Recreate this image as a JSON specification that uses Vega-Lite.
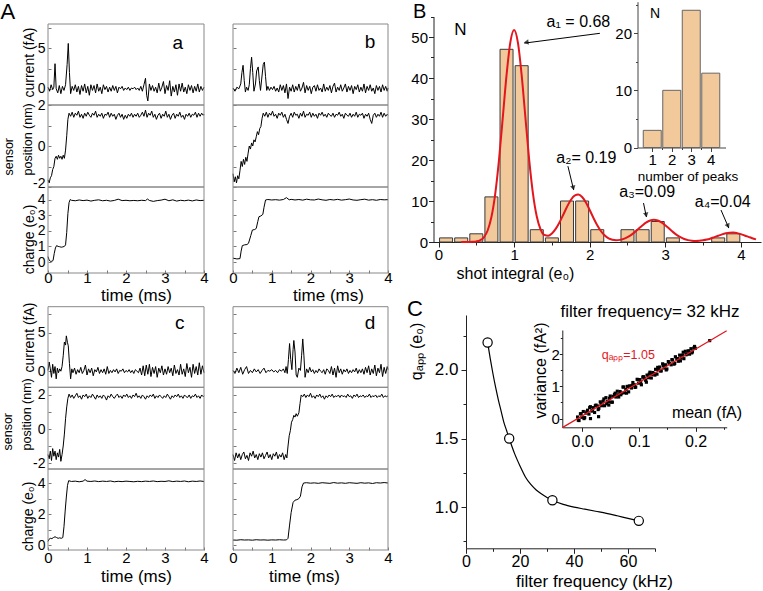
{
"$schema":"https://vega.github.io/schema/vega-lite/v6.json",
"width":763,"height":591,"autosize":"none","padding":0,"background":"white",
"config":{"view":{"stroke":null},"font":"Liberation Sans","axis":{"grid":false,"labelFont":"Liberation Sans","titleFont":"Liberation Sans","titleFontWeight":"normal","labelColor":"#000","titleColor":"#000","domainColor":"#333","tickColor":"#333","labelFlush":false,"labelOverlap":false},"text":{"font":"Liberation Sans"}},
"datasets":{
"ac":[{"t":0,"v":0.2},{"t":0.04,"v":-0.3},{"t":0.08,"v":0.5},{"t":0.12,"v":-0.1},{"t":0.15,"v":0.2},{"t":0.18,"v":3.1},{"t":0.21,"v":0.0},{"t":0.25,"v":-0.5},{"t":0.29,"v":0.4},{"t":0.33,"v":-0.6},{"t":0.37,"v":0.3},{"t":0.41,"v":-0.2},{"t":0.45,"v":0.5},{"t":0.49,"v":3.0},{"t":0.52,"v":5.6},{"t":0.55,"v":2.0},{"t":0.58,"v":-0.6},{"t":0.62,"v":0.3},{"t":0.66,"v":-0.2},{"t":0.70,"v":0.5},{"t":0.74,"v":-0.4},{"t":0.78,"v":0.3},{"t":0.82,"v":-0.7},{"t":0.86,"v":0.4},{"t":0.90,"v":-0.3},{"t":0.94,"v":0.6},{"t":0.98,"v":-0.5},{"t":1.02,"v":0.3},{"t":1.06,"v":-0.8},{"t":1.10,"v":0.5},{"t":1.14,"v":-0.2},{"t":1.18,"v":0.4},{"t":1.22,"v":-0.5},{"t":1.26,"v":0.6},{"t":1.30,"v":-0.3},{"t":1.34,"v":0.2},{"t":1.38,"v":-0.6},{"t":1.42,"v":0.5},{"t":1.46,"v":-0.1},{"t":1.50,"v":0.3},{"t":1.54,"v":-0.4},{"t":1.58,"v":0.2},{"t":1.62,"v":-0.3},{"t":1.66,"v":0.4},{"t":1.70,"v":-0.2},{"t":1.74,"v":0.3},{"t":1.78,"v":-0.5},{"t":1.82,"v":0.2},{"t":1.86,"v":0.0},{"t":1.90,"v":0.3},{"t":1.94,"v":-0.2},{"t":1.98,"v":0.1},{"t":2.02,"v":-0.1},{"t":2.06,"v":0.2},{"t":2.10,"v":-0.2},{"t":2.14,"v":0.1},{"t":2.18,"v":0.0},{"t":2.22,"v":0.2},{"t":2.26,"v":-0.1},{"t":2.30,"v":0.1},{"t":2.34,"v":-0.2},{"t":2.38,"v":0.3},{"t":2.42,"v":-0.3},{"t":2.46,"v":0.5},{"t":2.50,"v":1.3},{"t":2.53,"v":-0.8},{"t":2.56,"v":-1.5},{"t":2.60,"v":0.6},{"t":2.64,"v":-0.2},{"t":2.68,"v":0.4},{"t":2.72,"v":-0.3},{"t":2.76,"v":0.2},{"t":2.80,"v":-0.5},{"t":2.84,"v":0.7},{"t":2.88,"v":-0.3},{"t":2.92,"v":0.2},{"t":2.96,"v":0.9},{"t":3.00,"v":-0.6},{"t":3.04,"v":0.4},{"t":3.08,"v":-0.2},{"t":3.12,"v":1.0},{"t":3.16,"v":-0.9},{"t":3.20,"v":0.3},{"t":3.24,"v":-0.4},{"t":3.28,"v":0.5},{"t":3.32,"v":-0.8},{"t":3.36,"v":0.6},{"t":3.40,"v":-0.3},{"t":3.44,"v":0.7},{"t":3.48,"v":-0.4},{"t":3.52,"v":0.2},{"t":3.56,"v":-0.6},{"t":3.60,"v":0.5},{"t":3.64,"v":-0.2},{"t":3.68,"v":0.4},{"t":3.72,"v":-0.5},{"t":3.76,"v":0.3},{"t":3.80,"v":-0.3},{"t":3.84,"v":0.6},{"t":3.88,"v":-0.4},{"t":3.92,"v":0.3},{"t":3.96,"v":-0.2},{"t":4.00,"v":0.2}],
"as":[{"t":0,"v":-1.65},{"t":0.03,"v":-1.8},{"t":0.06,"v":-1.55},{"t":0.09,"v":-1.45},{"t":0.12,"v":-1.15},{"t":0.15,"v":-1.0},{"t":0.18,"v":-0.6},{"t":0.21,"v":-0.5},{"t":0.24,"v":-0.65},{"t":0.27,"v":-0.45},{"t":0.30,"v":-0.6},{"t":0.33,"v":-0.5},{"t":0.36,"v":-0.65},{"t":0.39,"v":-0.45},{"t":0.42,"v":-0.6},{"t":0.45,"v":-0.2},{"t":0.48,"v":0.5},{"t":0.51,"v":1.3},{"t":0.54,"v":1.6},{"t":0.58,"v":1.45},{"t":0.62,"v":1.65},{"t":0.66,"v":1.4},{"t":0.70,"v":1.6},{"t":0.74,"v":1.5},{"t":0.78,"v":1.7},{"t":0.82,"v":1.4},{"t":0.86,"v":1.55},{"t":0.90,"v":1.35},{"t":0.94,"v":1.6},{"t":0.98,"v":1.45},{"t":1.02,"v":1.65},{"t":1.06,"v":1.5},{"t":1.10,"v":1.4},{"t":1.14,"v":1.6},{"t":1.18,"v":1.5},{"t":1.22,"v":1.7},{"t":1.26,"v":1.4},{"t":1.30,"v":1.55},{"t":1.34,"v":1.45},{"t":1.38,"v":1.6},{"t":1.42,"v":1.35},{"t":1.46,"v":1.55},{"t":1.50,"v":1.5},{"t":1.54,"v":1.65},{"t":1.58,"v":1.4},{"t":1.62,"v":1.6},{"t":1.66,"v":1.45},{"t":1.70,"v":1.55},{"t":1.74,"v":1.3},{"t":1.78,"v":1.5},{"t":1.82,"v":1.6},{"t":1.86,"v":1.4},{"t":1.90,"v":1.55},{"t":1.94,"v":1.3},{"t":1.98,"v":1.5},{"t":2.02,"v":1.35},{"t":2.06,"v":1.55},{"t":2.10,"v":1.45},{"t":2.14,"v":1.6},{"t":2.18,"v":1.4},{"t":2.22,"v":1.55},{"t":2.26,"v":1.45},{"t":2.30,"v":1.6},{"t":2.34,"v":1.4},{"t":2.38,"v":1.5},{"t":2.42,"v":1.65},{"t":2.46,"v":1.45},{"t":2.50,"v":1.75},{"t":2.54,"v":1.4},{"t":2.58,"v":1.6},{"t":2.62,"v":1.5},{"t":2.66,"v":1.7},{"t":2.70,"v":1.4},{"t":2.74,"v":1.55},{"t":2.78,"v":1.3},{"t":2.82,"v":1.5},{"t":2.86,"v":1.6},{"t":2.90,"v":1.35},{"t":2.94,"v":1.55},{"t":2.98,"v":1.45},{"t":3.02,"v":1.7},{"t":3.06,"v":1.4},{"t":3.10,"v":1.55},{"t":3.14,"v":1.3},{"t":3.18,"v":1.5},{"t":3.22,"v":1.6},{"t":3.26,"v":1.35},{"t":3.30,"v":1.55},{"t":3.34,"v":1.45},{"t":3.38,"v":1.65},{"t":3.42,"v":1.4},{"t":3.46,"v":1.5},{"t":3.50,"v":1.3},{"t":3.54,"v":1.55},{"t":3.58,"v":1.45},{"t":3.62,"v":1.6},{"t":3.66,"v":1.4},{"t":3.70,"v":1.55},{"t":3.74,"v":1.5},{"t":3.78,"v":1.65},{"t":3.82,"v":1.4},{"t":3.86,"v":1.6},{"t":3.90,"v":1.45},{"t":3.94,"v":1.6},{"t":3.98,"v":1.5},{"t":4.00,"v":1.55}],
"ach":[{"t":0,"v":0.35},{"t":0.03,"v":0.12},{"t":0.06,"v":0.05},{"t":0.1,"v":0.05},{"t":0.13,"v":0.1},{"t":0.16,"v":0.55},{"t":0.19,"v":0.9},{"t":0.22,"v":1.05},{"t":0.26,"v":1.0},{"t":0.3,"v":0.98},{"t":0.34,"v":0.95},{"t":0.38,"v":0.97},{"t":0.42,"v":1.0},{"t":0.45,"v":1.1},{"t":0.48,"v":1.9},{"t":0.51,"v":3.1},{"t":0.54,"v":3.8},{"t":0.57,"v":4.0},{"t":0.6,"v":3.95},{"t":0.7,"v":3.92},{"t":0.8,"v":3.97},{"t":0.9,"v":3.93},{"t":1.0,"v":3.96},{"t":1.1,"v":3.9},{"t":1.2,"v":3.95},{"t":1.3,"v":3.98},{"t":1.4,"v":3.92},{"t":1.5,"v":3.95},{"t":1.6,"v":3.9},{"t":1.7,"v":3.94},{"t":1.8,"v":4.02},{"t":1.9,"v":3.93},{"t":2.0,"v":3.95},{"t":2.1,"v":3.92},{"t":2.2,"v":3.94},{"t":2.3,"v":3.92},{"t":2.4,"v":3.95},{"t":2.5,"v":3.93},{"t":2.55,"v":4.03},{"t":2.6,"v":3.94},{"t":2.7,"v":3.88},{"t":2.8,"v":3.93},{"t":2.9,"v":3.96},{"t":3.0,"v":4.02},{"t":3.1,"v":3.92},{"t":3.2,"v":3.98},{"t":3.3,"v":3.9},{"t":3.4,"v":3.95},{"t":3.5,"v":3.92},{"t":3.6,"v":3.96},{"t":3.7,"v":3.91},{"t":3.8,"v":3.97},{"t":3.9,"v":3.93},{"t":4.0,"v":3.95}],
"bc":[{"t":0,"v":0.1},{"t":0.05,"v":-0.3},{"t":0.1,"v":0.2},{"t":0.15,"v":0.0},{"t":0.2,"v":0.6},{"t":0.23,"v":2.0},{"t":0.26,"v":2.9},{"t":0.29,"v":1.0},{"t":0.32,"v":-0.4},{"t":0.35,"v":0.2},{"t":0.39,"v":-0.2},{"t":0.42,"v":0.5},{"t":0.45,"v":2.5},{"t":0.48,"v":3.9},{"t":0.51,"v":2.0},{"t":0.54,"v":-0.3},{"t":0.58,"v":0.6},{"t":0.61,"v":2.2},{"t":0.65,"v":2.7},{"t":0.68,"v":1.0},{"t":0.71,"v":-0.2},{"t":0.74,"v":1.2},{"t":0.78,"v":3.0},{"t":0.81,"v":3.3},{"t":0.84,"v":1.5},{"t":0.87,"v":-0.2},{"t":0.9,"v":0.3},{"t":0.94,"v":-0.2},{"t":0.98,"v":0.2},{"t":1.02,"v":-0.1},{"t":1.06,"v":0.3},{"t":1.1,"v":-0.3},{"t":1.14,"v":0.1},{"t":1.18,"v":-0.4},{"t":1.22,"v":0.5},{"t":1.26,"v":-0.2},{"t":1.3,"v":0.4},{"t":1.34,"v":-0.5},{"t":1.38,"v":0.6},{"t":1.42,"v":-1.2},{"t":1.46,"v":0.2},{"t":1.5,"v":-0.3},{"t":1.54,"v":0.5},{"t":1.58,"v":-0.4},{"t":1.62,"v":0.3},{"t":1.66,"v":-0.2},{"t":1.7,"v":0.6},{"t":1.74,"v":-0.3},{"t":1.78,"v":0.1},{"t":1.82,"v":0.8},{"t":1.86,"v":-0.5},{"t":1.9,"v":0.4},{"t":1.94,"v":-0.2},{"t":1.98,"v":0.3},{"t":2.02,"v":-0.6},{"t":2.06,"v":0.2},{"t":2.1,"v":0.4},{"t":2.14,"v":-0.3},{"t":2.18,"v":0.5},{"t":2.22,"v":-0.2},{"t":2.26,"v":0.1},{"t":2.3,"v":-0.4},{"t":2.34,"v":0.6},{"t":2.38,"v":-0.3},{"t":2.42,"v":0.2},{"t":2.46,"v":-0.2},{"t":2.5,"v":0.4},{"t":2.54,"v":-0.5},{"t":2.58,"v":0.3},{"t":2.62,"v":0.7},{"t":2.66,"v":-0.4},{"t":2.7,"v":0.2},{"t":2.74,"v":-0.2},{"t":2.78,"v":0.5},{"t":2.82,"v":-0.3},{"t":2.86,"v":0.1},{"t":2.9,"v":0.6},{"t":2.94,"v":-0.4},{"t":2.98,"v":0.3},{"t":3.02,"v":-0.2},{"t":3.06,"v":0.4},{"t":3.1,"v":-0.6},{"t":3.14,"v":0.3},{"t":3.18,"v":-0.1},{"t":3.22,"v":0.5},{"t":3.26,"v":-0.4},{"t":3.3,"v":0.2},{"t":3.34,"v":-0.3},{"t":3.38,"v":0.6},{"t":3.42,"v":-0.5},{"t":3.46,"v":0.3},{"t":3.5,"v":-0.2},{"t":3.54,"v":0.5},{"t":3.58,"v":-0.3},{"t":3.62,"v":0.1},{"t":3.66,"v":-0.6},{"t":3.7,"v":0.4},{"t":3.74,"v":-0.2},{"t":3.78,"v":0.3},{"t":3.82,"v":-0.4},{"t":3.86,"v":0.5},{"t":3.9,"v":-0.2},{"t":3.94,"v":0.3},{"t":3.98,"v":-0.3},{"t":4.0,"v":0.1}],
"bs":[{"t":0,"v":-1.35},{"t":0.03,"v":-1.75},{"t":0.06,"v":-1.5},{"t":0.09,"v":-1.8},{"t":0.12,"v":-1.45},{"t":0.15,"v":-1.6},{"t":0.18,"v":-1.2},{"t":0.21,"v":-0.75},{"t":0.24,"v":-1.0},{"t":0.27,"v":-0.65},{"t":0.30,"v":-0.9},{"t":0.33,"v":-0.55},{"t":0.36,"v":-0.75},{"t":0.39,"v":-0.35},{"t":0.42,"v":0.0},{"t":0.45,"v":-0.15},{"t":0.48,"v":0.15},{"t":0.51,"v":0.0},{"t":0.54,"v":0.3},{"t":0.57,"v":0.2},{"t":0.60,"v":0.45},{"t":0.63,"v":0.7},{"t":0.66,"v":0.55},{"t":0.69,"v":0.85},{"t":0.72,"v":0.95},{"t":0.75,"v":1.35},{"t":0.78,"v":1.6},{"t":0.82,"v":1.45},{"t":0.86,"v":1.65},{"t":0.90,"v":1.4},{"t":0.94,"v":1.6},{"t":0.98,"v":1.5},{"t":1.02,"v":1.7},{"t":1.06,"v":1.45},{"t":1.10,"v":1.55},{"t":1.14,"v":1.35},{"t":1.18,"v":1.6},{"t":1.22,"v":1.5},{"t":1.26,"v":1.65},{"t":1.30,"v":1.4},{"t":1.34,"v":1.55},{"t":1.38,"v":1.3},{"t":1.42,"v":1.1},{"t":1.46,"v":1.45},{"t":1.50,"v":1.6},{"t":1.54,"v":1.4},{"t":1.58,"v":1.65},{"t":1.62,"v":1.5},{"t":1.66,"v":1.55},{"t":1.70,"v":1.35},{"t":1.74,"v":1.6},{"t":1.78,"v":1.45},{"t":1.82,"v":1.7},{"t":1.86,"v":1.4},{"t":1.90,"v":1.55},{"t":1.94,"v":1.5},{"t":1.98,"v":1.65},{"t":2.02,"v":1.4},{"t":2.06,"v":1.6},{"t":2.10,"v":1.45},{"t":2.14,"v":1.55},{"t":2.18,"v":1.35},{"t":2.22,"v":1.6},{"t":2.26,"v":1.5},{"t":2.30,"v":1.65},{"t":2.34,"v":1.45},{"t":2.38,"v":1.55},{"t":2.42,"v":1.4},{"t":2.46,"v":1.6},{"t":2.50,"v":1.5},{"t":2.54,"v":1.45},{"t":2.58,"v":1.6},{"t":2.62,"v":1.4},{"t":2.66,"v":1.55},{"t":2.70,"v":1.5},{"t":2.74,"v":1.65},{"t":2.78,"v":1.45},{"t":2.82,"v":1.55},{"t":2.86,"v":1.35},{"t":2.90,"v":1.6},{"t":2.94,"v":1.5},{"t":2.98,"v":1.45},{"t":3.02,"v":1.6},{"t":3.06,"v":1.4},{"t":3.10,"v":1.55},{"t":3.14,"v":1.45},{"t":3.18,"v":1.65},{"t":3.22,"v":1.4},{"t":3.26,"v":1.55},{"t":3.30,"v":1.5},{"t":3.34,"v":1.6},{"t":3.38,"v":1.35},{"t":3.42,"v":1.55},{"t":3.46,"v":1.45},{"t":3.50,"v":1.6},{"t":3.54,"v":1.3},{"t":3.58,"v":1.1},{"t":3.62,"v":1.5},{"t":3.66,"v":1.6},{"t":3.70,"v":1.4},{"t":3.74,"v":1.55},{"t":3.78,"v":1.45},{"t":3.82,"v":1.65},{"t":3.86,"v":1.4},{"t":3.90,"v":1.6},{"t":3.94,"v":1.45},{"t":3.98,"v":1.55},{"t":4.00,"v":1.5}],
"bch":[{"t":0,"v":0.25},{"t":0.1,"v":0.2},{"t":0.18,"v":0.22},{"t":0.21,"v":0.7},{"t":0.24,"v":1.05},{"t":0.3,"v":1.1},{"t":0.36,"v":1.12},{"t":0.4,"v":1.2},{"t":0.46,"v":1.7},{"t":0.5,"v":2.05},{"t":0.56,"v":2.08},{"t":0.6,"v":2.15},{"t":0.64,"v":2.6},{"t":0.67,"v":2.9},{"t":0.72,"v":2.95},{"t":0.77,"v":3.05},{"t":0.8,"v":3.5},{"t":0.84,"v":3.97},{"t":0.9,"v":4.0},{"t":1.0,"v":3.97},{"t":1.1,"v":3.99},{"t":1.2,"v":3.96},{"t":1.3,"v":4.0},{"t":1.38,"v":4.12},{"t":1.45,"v":3.98},{"t":1.5,"v":4.01},{"t":1.6,"v":3.97},{"t":1.7,"v":4.0},{"t":1.8,"v":3.96},{"t":1.9,"v":4.02},{"t":2.0,"v":3.98},{"t":2.1,"v":3.97},{"t":2.2,"v":4.03},{"t":2.3,"v":3.98},{"t":2.4,"v":3.95},{"t":2.5,"v":4.0},{"t":2.6,"v":3.97},{"t":2.7,"v":4.01},{"t":2.8,"v":3.96},{"t":2.9,"v":3.99},{"t":3.0,"v":4.03},{"t":3.1,"v":3.97},{"t":3.2,"v":3.95},{"t":3.3,"v":3.99},{"t":3.4,"v":4.02},{"t":3.5,"v":3.96},{"t":3.6,"v":3.99},{"t":3.7,"v":3.95},{"t":3.8,"v":4.0},{"t":3.9,"v":3.98},{"t":4.0,"v":3.99}],
"cc":[{"t":0,"v":0.1},{"t":0.03,"v":1.2},{"t":0.06,"v":0.3},{"t":0.09,"v":-0.8},{"t":0.12,"v":0.9},{"t":0.15,"v":-0.3},{"t":0.18,"v":0.6},{"t":0.21,"v":-1.0},{"t":0.24,"v":0.4},{"t":0.27,"v":-0.2},{"t":0.3,"v":0.3},{"t":0.33,"v":0.0},{"t":0.36,"v":0.6},{"t":0.39,"v":2.0},{"t":0.42,"v":3.8},{"t":0.45,"v":3.4},{"t":0.47,"v":4.6},{"t":0.5,"v":3.7},{"t":0.52,"v":3.3},{"t":0.55,"v":1.0},{"t":0.58,"v":-1.0},{"t":0.61,"v":0.3},{"t":0.64,"v":-0.2},{"t":0.68,"v":0.4},{"t":0.72,"v":-0.4},{"t":0.76,"v":0.2},{"t":0.8,"v":-0.2},{"t":0.84,"v":0.5},{"t":0.88,"v":-0.3},{"t":0.92,"v":0.1},{"t":0.96,"v":0.8},{"t":1.0,"v":-0.5},{"t":1.04,"v":0.3},{"t":1.08,"v":-0.2},{"t":1.12,"v":0.4},{"t":1.16,"v":-0.6},{"t":1.2,"v":0.2},{"t":1.24,"v":-0.1},{"t":1.28,"v":0.5},{"t":1.32,"v":-0.3},{"t":1.36,"v":0.2},{"t":1.4,"v":-0.2},{"t":1.44,"v":0.3},{"t":1.48,"v":-0.4},{"t":1.52,"v":0.6},{"t":1.56,"v":-0.3},{"t":1.6,"v":0.1},{"t":1.64,"v":-0.2},{"t":1.68,"v":0.2},{"t":1.72,"v":-0.1},{"t":1.76,"v":0.3},{"t":1.8,"v":-0.3},{"t":1.84,"v":0.1},{"t":1.88,"v":0.0},{"t":1.92,"v":0.3},{"t":1.96,"v":-0.2},{"t":2.0,"v":0.1},{"t":2.04,"v":-0.1},{"t":2.08,"v":0.2},{"t":2.12,"v":-0.2},{"t":2.16,"v":0.1},{"t":2.2,"v":-0.3},{"t":2.24,"v":0.2},{"t":2.28,"v":0.0},{"t":2.32,"v":-0.2},{"t":2.36,"v":0.4},{"t":2.4,"v":-0.5},{"t":2.44,"v":0.7},{"t":2.48,"v":-0.6},{"t":2.52,"v":0.8},{"t":2.56,"v":-0.4},{"t":2.6,"v":0.9},{"t":2.64,"v":-0.7},{"t":2.68,"v":0.5},{"t":2.72,"v":-0.3},{"t":2.76,"v":0.6},{"t":2.8,"v":-0.8},{"t":2.84,"v":0.4},{"t":2.88,"v":-0.2},{"t":2.92,"v":0.7},{"t":2.96,"v":-0.5},{"t":3.0,"v":0.3},{"t":3.04,"v":-0.4},{"t":3.08,"v":0.6},{"t":3.12,"v":-0.2},{"t":3.16,"v":0.4},{"t":3.2,"v":-0.6},{"t":3.24,"v":0.8},{"t":3.28,"v":-0.3},{"t":3.32,"v":0.2},{"t":3.36,"v":-0.5},{"t":3.4,"v":0.9},{"t":3.44,"v":-0.4},{"t":3.48,"v":0.3},{"t":3.52,"v":-0.7},{"t":3.56,"v":1.0},{"t":3.6,"v":-0.2},{"t":3.64,"v":0.5},{"t":3.68,"v":-0.8},{"t":3.72,"v":0.9},{"t":3.76,"v":-0.3},{"t":3.8,"v":0.6},{"t":3.84,"v":-0.5},{"t":3.88,"v":1.1},{"t":3.92,"v":-0.4},{"t":3.96,"v":0.7},{"t":4.0,"v":-0.2}],
"cs":[{"t":0,"v":-1.5},{"t":0.03,"v":-1.75},{"t":0.06,"v":-1.3},{"t":0.09,"v":-1.85},{"t":0.12,"v":-1.15},{"t":0.15,"v":-1.6},{"t":0.18,"v":-1.3},{"t":0.21,"v":-1.8},{"t":0.24,"v":-1.4},{"t":0.27,"v":-1.65},{"t":0.30,"v":-1.2},{"t":0.33,"v":-1.9},{"t":0.36,"v":-1.5},{"t":0.39,"v":-1.0},{"t":0.42,"v":-0.3},{"t":0.45,"v":0.6},{"t":0.48,"v":1.3},{"t":0.51,"v":1.8},{"t":0.54,"v":2.05},{"t":0.58,"v":1.85},{"t":0.62,"v":2.0},{"t":0.66,"v":1.8},{"t":0.70,"v":1.95},{"t":0.74,"v":2.1},{"t":0.78,"v":1.85},{"t":0.82,"v":1.95},{"t":0.86,"v":1.75},{"t":0.90,"v":2.0},{"t":0.94,"v":1.9},{"t":0.98,"v":2.05},{"t":1.02,"v":1.8},{"t":1.06,"v":1.95},{"t":1.10,"v":1.85},{"t":1.14,"v":2.05},{"t":1.18,"v":1.9},{"t":1.22,"v":1.75},{"t":1.26,"v":2.0},{"t":1.30,"v":1.85},{"t":1.34,"v":1.95},{"t":1.38,"v":1.8},{"t":1.42,"v":2.0},{"t":1.46,"v":1.9},{"t":1.50,"v":1.7},{"t":1.54,"v":1.95},{"t":1.58,"v":1.85},{"t":1.62,"v":2.05},{"t":1.66,"v":1.9},{"t":1.70,"v":1.8},{"t":1.74,"v":1.95},{"t":1.78,"v":2.05},{"t":1.82,"v":1.85},{"t":1.86,"v":1.95},{"t":1.90,"v":1.8},{"t":1.94,"v":2.0},{"t":1.98,"v":1.9},{"t":2.02,"v":2.05},{"t":2.06,"v":1.85},{"t":2.10,"v":1.95},{"t":2.14,"v":1.8},{"t":2.18,"v":2.0},{"t":2.22,"v":1.9},{"t":2.26,"v":2.1},{"t":2.30,"v":1.85},{"t":2.34,"v":1.95},{"t":2.38,"v":1.8},{"t":2.42,"v":2.0},{"t":2.46,"v":1.9},{"t":2.50,"v":1.75},{"t":2.54,"v":1.95},{"t":2.58,"v":1.85},{"t":2.62,"v":2.0},{"t":2.66,"v":1.9},{"t":2.70,"v":2.05},{"t":2.74,"v":1.8},{"t":2.78,"v":1.95},{"t":2.82,"v":1.85},{"t":2.86,"v":2.0},{"t":2.90,"v":1.9},{"t":2.94,"v":1.8},{"t":2.98,"v":1.95},{"t":3.02,"v":1.85},{"t":3.06,"v":2.05},{"t":3.10,"v":1.9},{"t":3.14,"v":1.75},{"t":3.18,"v":1.95},{"t":3.22,"v":1.85},{"t":3.26,"v":2.0},{"t":3.30,"v":1.9},{"t":3.34,"v":2.05},{"t":3.38,"v":1.85},{"t":3.42,"v":1.95},{"t":3.46,"v":1.8},{"t":3.50,"v":2.0},{"t":3.54,"v":1.9},{"t":3.58,"v":1.85},{"t":3.62,"v":2.0},{"t":3.66,"v":1.8},{"t":3.70,"v":1.95},{"t":3.74,"v":1.9},{"t":3.78,"v":2.05},{"t":3.82,"v":1.85},{"t":3.86,"v":1.95},{"t":3.90,"v":1.8},{"t":3.94,"v":2.0},{"t":3.98,"v":1.9},{"t":4.00,"v":1.95}],
"cch":[{"t":0,"v":0.25},{"t":0.03,"v":0.4},{"t":0.06,"v":0.45},{"t":0.1,"v":0.43},{"t":0.14,"v":0.5},{"t":0.18,"v":0.55},{"t":0.22,"v":0.5},{"t":0.26,"v":0.45},{"t":0.3,"v":0.48},{"t":0.34,"v":0.45},{"t":0.38,"v":0.5},{"t":0.41,"v":1.2},{"t":0.44,"v":2.2},{"t":0.47,"v":3.1},{"t":0.5,"v":3.85},{"t":0.53,"v":4.15},{"t":0.6,"v":4.1},{"t":0.7,"v":4.12},{"t":0.8,"v":4.08},{"t":0.9,"v":4.12},{"t":0.95,"v":4.22},{"t":1.0,"v":4.12},{"t":1.1,"v":4.1},{"t":1.2,"v":4.13},{"t":1.3,"v":4.09},{"t":1.4,"v":4.12},{"t":1.5,"v":4.1},{"t":1.6,"v":4.13},{"t":1.7,"v":4.08},{"t":1.8,"v":4.11},{"t":1.9,"v":4.09},{"t":2.0,"v":4.12},{"t":2.1,"v":4.1},{"t":2.2,"v":4.08},{"t":2.3,"v":4.11},{"t":2.4,"v":4.09},{"t":2.5,"v":4.12},{"t":2.6,"v":4.1},{"t":2.7,"v":4.13},{"t":2.8,"v":4.09},{"t":2.9,"v":4.11},{"t":3.0,"v":4.1},{"t":3.1,"v":4.14},{"t":3.2,"v":4.09},{"t":3.3,"v":4.12},{"t":3.4,"v":4.1},{"t":3.5,"v":4.13},{"t":3.6,"v":4.08},{"t":3.7,"v":4.12},{"t":3.8,"v":4.1},{"t":3.9,"v":4.13},{"t":4.0,"v":4.1}],
"dc":[{"t":0,"v":0.1},{"t":0.05,"v":-0.3},{"t":0.1,"v":0.4},{"t":0.15,"v":-0.2},{"t":0.2,"v":0.5},{"t":0.25,"v":-0.4},{"t":0.3,"v":0.2},{"t":0.35,"v":0.6},{"t":0.4,"v":-0.3},{"t":0.45,"v":0.1},{"t":0.5,"v":-0.2},{"t":0.55,"v":0.3},{"t":0.6,"v":-0.1},{"t":0.65,"v":0.2},{"t":0.7,"v":-0.3},{"t":0.75,"v":0.1},{"t":0.8,"v":0.4},{"t":0.85,"v":-0.2},{"t":0.9,"v":0.1},{"t":0.95,"v":0.0},{"t":1.0,"v":0.2},{"t":1.05,"v":-0.1},{"t":1.1,"v":0.1},{"t":1.15,"v":-0.2},{"t":1.2,"v":0.2},{"t":1.25,"v":0.0},{"t":1.3,"v":0.3},{"t":1.34,"v":-0.2},{"t":1.37,"v":0.6},{"t":1.4,"v":-0.3},{"t":1.43,"v":1.5},{"t":1.46,"v":3.6},{"t":1.49,"v":1.5},{"t":1.52,"v":0.2},{"t":1.55,"v":2.8},{"t":1.57,"v":4.0},{"t":1.6,"v":2.5},{"t":1.63,"v":-0.5},{"t":1.66,"v":-0.8},{"t":1.7,"v":0.4},{"t":1.74,"v":0.1},{"t":1.77,"v":2.0},{"t":1.8,"v":4.2},{"t":1.83,"v":2.0},{"t":1.86,"v":-0.8},{"t":1.9,"v":0.3},{"t":1.94,"v":-0.2},{"t":1.98,"v":0.5},{"t":2.02,"v":-0.1},{"t":2.06,"v":0.2},{"t":2.1,"v":-0.3},{"t":2.14,"v":0.1},{"t":2.18,"v":-0.2},{"t":2.22,"v":0.3},{"t":2.26,"v":0.0},{"t":2.3,"v":-0.2},{"t":2.34,"v":0.2},{"t":2.38,"v":-0.4},{"t":2.42,"v":0.3},{"t":2.46,"v":0.1},{"t":2.5,"v":-0.3},{"t":2.54,"v":0.6},{"t":2.58,"v":-0.5},{"t":2.62,"v":0.4},{"t":2.66,"v":-0.8},{"t":2.7,"v":0.7},{"t":2.74,"v":-0.2},{"t":2.78,"v":0.3},{"t":2.82,"v":-0.4},{"t":2.86,"v":0.2},{"t":2.9,"v":-0.1},{"t":2.94,"v":0.3},{"t":2.98,"v":-0.3},{"t":3.02,"v":0.1},{"t":3.06,"v":-0.2},{"t":3.1,"v":0.2},{"t":3.14,"v":-0.1},{"t":3.18,"v":0.4},{"t":3.22,"v":-0.3},{"t":3.26,"v":0.2},{"t":3.3,"v":-0.2},{"t":3.34,"v":0.3},{"t":3.38,"v":-0.4},{"t":3.42,"v":0.5},{"t":3.46,"v":-0.2},{"t":3.5,"v":0.7},{"t":3.54,"v":-0.5},{"t":3.58,"v":0.3},{"t":3.62,"v":-0.3},{"t":3.66,"v":0.8},{"t":3.7,"v":-0.6},{"t":3.74,"v":0.4},{"t":3.78,"v":-0.2},{"t":3.82,"v":0.9},{"t":3.86,"v":-0.7},{"t":3.9,"v":0.5},{"t":3.94,"v":-0.3},{"t":3.98,"v":0.6},{"t":4.0,"v":0.2}],
"ds":[{"t":0,"v":-1.5},{"t":0.04,"v":-1.85},{"t":0.08,"v":-1.4},{"t":0.12,"v":-1.7},{"t":0.16,"v":-1.45},{"t":0.20,"v":-1.8},{"t":0.24,"v":-1.5},{"t":0.28,"v":-1.35},{"t":0.32,"v":-1.75},{"t":0.36,"v":-1.55},{"t":0.40,"v":-1.85},{"t":0.44,"v":-1.4},{"t":0.48,"v":-1.6},{"t":0.52,"v":-1.3},{"t":0.56,"v":-1.7},{"t":0.60,"v":-1.5},{"t":0.64,"v":-1.8},{"t":0.68,"v":-1.45},{"t":0.72,"v":-1.65},{"t":0.76,"v":-1.4},{"t":0.80,"v":-1.75},{"t":0.84,"v":-1.55},{"t":0.88,"v":-1.35},{"t":0.92,"v":-1.7},{"t":0.96,"v":-1.5},{"t":1.00,"v":-1.8},{"t":1.04,"v":-1.45},{"t":1.08,"v":-1.6},{"t":1.12,"v":-1.35},{"t":1.16,"v":-1.75},{"t":1.20,"v":-1.5},{"t":1.24,"v":-1.65},{"t":1.28,"v":-1.4},{"t":1.32,"v":-1.8},{"t":1.36,"v":-1.5},{"t":1.39,"v":-1.7},{"t":1.42,"v":-1.0},{"t":1.45,"v":-0.4},{"t":1.48,"v":-0.1},{"t":1.51,"v":0.4},{"t":1.54,"v":0.55},{"t":1.57,"v":0.8},{"t":1.60,"v":0.7},{"t":1.63,"v":0.9},{"t":1.66,"v":0.75},{"t":1.70,"v":0.95},{"t":1.73,"v":1.5},{"t":1.76,"v":2.0},{"t":1.80,"v":1.9},{"t":1.84,"v":2.05},{"t":1.88,"v":1.85},{"t":1.92,"v":2.0},{"t":1.96,"v":1.9},{"t":2.00,"v":2.1},{"t":2.04,"v":1.85},{"t":2.08,"v":1.95},{"t":2.12,"v":1.8},{"t":2.16,"v":2.0},{"t":2.20,"v":1.9},{"t":2.24,"v":2.05},{"t":2.28,"v":1.85},{"t":2.32,"v":1.95},{"t":2.36,"v":1.75},{"t":2.40,"v":1.95},{"t":2.44,"v":1.85},{"t":2.48,"v":2.0},{"t":2.52,"v":1.9},{"t":2.56,"v":2.05},{"t":2.60,"v":1.85},{"t":2.64,"v":1.95},{"t":2.68,"v":1.9},{"t":2.72,"v":2.0},{"t":2.76,"v":1.85},{"t":2.80,"v":2.0},{"t":2.84,"v":1.9},{"t":2.88,"v":1.95},{"t":2.92,"v":1.85},{"t":2.96,"v":2.05},{"t":3.00,"v":1.9},{"t":3.04,"v":1.95},{"t":3.08,"v":1.8},{"t":3.12,"v":2.0},{"t":3.16,"v":1.9},{"t":3.20,"v":2.05},{"t":3.24,"v":1.85},{"t":3.28,"v":1.95},{"t":3.32,"v":1.9},{"t":3.36,"v":2.0},{"t":3.40,"v":1.85},{"t":3.44,"v":1.95},{"t":3.48,"v":1.9},{"t":3.52,"v":2.05},{"t":3.56,"v":1.85},{"t":3.60,"v":1.95},{"t":3.64,"v":1.9},{"t":3.68,"v":2.0},{"t":3.72,"v":1.85},{"t":3.76,"v":1.95},{"t":3.80,"v":1.9},{"t":3.84,"v":2.05},{"t":3.88,"v":1.85},{"t":3.92,"v":1.95},{"t":3.96,"v":1.9},{"t":4.00,"v":1.95}],
"dch":[{"t":0,"v":0.34},{"t":0.1,"v":0.33},{"t":0.2,"v":0.36},{"t":0.3,"v":0.34},{"t":0.4,"v":0.35},{"t":0.5,"v":0.33},{"t":0.6,"v":0.36},{"t":0.7,"v":0.34},{"t":0.8,"v":0.35},{"t":0.9,"v":0.33},{"t":1.0,"v":0.35},{"t":1.1,"v":0.34},{"t":1.2,"v":0.36},{"t":1.3,"v":0.34},{"t":1.38,"v":0.35},{"t":1.42,"v":0.45},{"t":1.46,"v":1.3},{"t":1.5,"v":2.1},{"t":1.55,"v":2.75},{"t":1.6,"v":2.9},{"t":1.65,"v":2.93},{"t":1.7,"v":3.0},{"t":1.74,"v":3.15},{"t":1.78,"v":3.75},{"t":1.82,"v":4.0},{"t":1.9,"v":4.02},{"t":2.0,"v":3.99},{"t":2.1,"v":4.01},{"t":2.2,"v":3.98},{"t":2.3,"v":4.02},{"t":2.4,"v":4.0},{"t":2.5,"v":3.98},{"t":2.6,"v":4.03},{"t":2.7,"v":3.99},{"t":2.8,"v":4.01},{"t":2.9,"v":3.98},{"t":3.0,"v":4.02},{"t":3.1,"v":4.0},{"t":3.2,"v":3.98},{"t":3.3,"v":4.02},{"t":3.4,"v":3.99},{"t":3.5,"v":4.01},{"t":3.6,"v":3.97},{"t":3.7,"v":4.02},{"t":3.8,"v":4.0},{"t":3.9,"v":4.03},{"t":4.0,"v":4.0}],
"hist":[{"x":0.1,"n":1},{"x":0.3,"n":1},{"x":0.5,"n":2},{"x":0.7,"n":11},{"x":0.9,"n":47},{"x":1.1,"n":43},{"x":1.3,"n":3},{"x":1.5,"n":1},{"x":1.7,"n":10},{"x":1.9,"n":10},{"x":2.1,"n":3},{"x":2.5,"n":3},{"x":2.7,"n":3},{"x":2.9,"n":5},{"x":3.1,"n":1},{"x":3.7,"n":1},{"x":3.9,"n":2}],
"fit":[{"x":0.3,"y":0},{"x":0.4,"y":0.01},{"x":0.45,"y":0.04},{"x":0.5,"y":0.14},{"x":0.55,"y":0.42},{"x":0.6,"y":1.15},{"x":0.65,"y":2.81},{"x":0.7,"y":6.08},{"x":0.75,"y":11.7},{"x":0.8,"y":19.97},{"x":0.85,"y":30.28},{"x":0.9,"y":40.7},{"x":0.95,"y":48.7},{"x":1.0,"y":51.7},{"x":1.05,"y":48.7},{"x":1.1,"y":40.7},{"x":1.15,"y":30.28},{"x":1.2,"y":19.99},{"x":1.25,"y":11.75},{"x":1.3,"y":6.21},{"x":1.35,"y":3.1},{"x":1.4,"y":1.73},{"x":1.45,"y":1.53},{"x":1.5,"y":2.09},{"x":1.55,"y":3.21},{"x":1.6,"y":4.78},{"x":1.65,"y":6.64},{"x":1.7,"y":8.58},{"x":1.75,"y":10.24},{"x":1.8,"y":11.32},{"x":1.85,"y":11.58},{"x":1.9,"y":10.97},{"x":1.95,"y":9.63},{"x":2.0,"y":7.81},{"x":2.05,"y":5.87},{"x":2.1,"y":4.09},{"x":2.15,"y":2.63},{"x":2.2,"y":1.57},{"x":2.25,"y":0.87},{"x":2.3,"y":0.56},{"x":2.35,"y":0.45},{"x":2.4,"y":0.52},{"x":2.45,"y":0.77},{"x":2.5,"y":1.18},{"x":2.55,"y":1.75},{"x":2.6,"y":2.47},{"x":2.65,"y":3.28},{"x":2.7,"y":4.08},{"x":2.75,"y":4.77},{"x":2.8,"y":5.23},{"x":2.85,"y":5.4},{"x":2.9,"y":5.23},{"x":2.95,"y":4.77},{"x":3.0,"y":4.08},{"x":3.05,"y":3.28},{"x":3.1,"y":2.47},{"x":3.15,"y":1.75},{"x":3.2,"y":1.17},{"x":3.25,"y":0.73},{"x":3.3,"y":0.46},{"x":3.35,"y":0.31},{"x":3.4,"y":0.25},{"x":3.45,"y":0.29},{"x":3.5,"y":0.41},{"x":3.55,"y":0.59},{"x":3.6,"y":0.86},{"x":3.65,"y":1.19},{"x":3.7,"y":1.53},{"x":3.75,"y":1.86},{"x":3.8,"y":2.12},{"x":3.85,"y":2.27},{"x":3.9,"y":2.29},{"x":3.95,"y":2.16},{"x":4.0,"y":1.92},{"x":4.05,"y":1.6},{"x":4.1,"y":1.26},{"x":4.15,"y":0.92},{"x":4.2,"y":0.64}],
"arrows":[{"x":2.135,"y":50.9,"x2":1.135,"y2":48.5},{"x":1.712,"y":18.5,"x2":1.788,"y2":12.7},{"x":2.712,"y":9.5,"x2":2.75,"y2":6.1},{"x":3.737,"y":7.8,"x2":3.84,"y2":3.4}],
"atext":[{"x":1.43,"y":52.4,"txt":"a₁ = 0.68"},{"x":1.558,"y":19.3,"txt":"a₂= 0.19"},{"x":2.391,"y":11.0,"txt":"a₃=0.09"},{"x":3.391,"y":8.5,"txt":"a₄=0.04"}],
"peaks":[{"k":1,"n":3},{"k":2,"n":10},{"k":3,"n":24},{"k":4,"n":13}],
"qcurve":[{"f":8,"q":2.2},{"f":9,"q":2.08},{"f":10,"q":1.97},{"f":11,"q":1.87},{"f":12,"q":1.78},{"f":13,"q":1.7},{"f":14,"q":1.62},{"f":15,"q":1.56},{"f":16,"q":1.5},{"f":18,"q":1.39},{"f":20,"q":1.3},{"f":22,"q":1.22},{"f":24,"q":1.165},{"f":26,"q":1.125},{"f":28,"q":1.095},{"f":30,"q":1.07},{"f":32,"q":1.05},{"f":36,"q":1.02},{"f":40,"q":1.0},{"f":44,"q":0.985},{"f":48,"q":0.97},{"f":52,"q":0.955},{"f":56,"q":0.937},{"f":60,"q":0.918},{"f":64,"q":0.9}],
"qpts":[{"f":8,"q":2.2},{"f":16,"q":1.5},{"f":32,"q":1.05},{"f":64,"q":0.9}],
"mv":[{"m":-0.008,"v":0.05},{"m":-0.0055,"v":-0.06},{"m":-0.003,"v":0.15},{"m":-0.0005,"v":0.04},{"m":0.002,"v":0.22},{"m":0.0045,"v":0.03},{"m":0.007,"v":0.17},{"m":0.0095,"v":0.26},{"m":0.012,"v":0.14},{"m":0.0145,"v":0.37},{"m":0.017,"v":0.24},{"m":0.0195,"v":0.34},{"m":0.022,"v":0.19},{"m":0.0245,"v":0.42},{"m":0.027,"v":0.39},{"m":0.0295,"v":0.32},{"m":0.032,"v":0.52},{"m":0.0345,"v":0.4},{"m":0.037,"v":0.54},{"m":0.0395,"v":0.4},{"m":0.042,"v":0.65},{"m":0.0445,"v":0.54},{"m":0.047,"v":0.52},{"m":0.0495,"v":0.7},{"m":0.052,"v":0.51},{"m":0.0545,"v":0.69},{"m":0.057,"v":0.75},{"m":0.0595,"v":0.67},{"m":0.062,"v":0.85},{"m":0.0645,"v":0.67},{"m":0.067,"v":0.84},{"m":0.0695,"v":0.79},{"m":0.072,"v":0.98},{"m":0.0745,"v":0.8},{"m":0.077,"v":0.9},{"m":0.0795,"v":1.0},{"m":0.082,"v":0.83},{"m":0.0845,"v":1.01},{"m":0.087,"v":0.95},{"m":0.0895,"v":1.12},{"m":0.092,"v":1.05},{"m":0.0945,"v":0.98},{"m":0.097,"v":1.22},{"m":0.0995,"v":1.1},{"m":0.102,"v":1.21},{"m":0.1045,"v":1.05},{"m":0.107,"v":1.29},{"m":0.1095,"v":1.25},{"m":0.112,"v":1.19},{"m":0.1145,"v":1.35},{"m":0.117,"v":1.27},{"m":0.1195,"v":1.44},{"m":0.122,"v":1.26},{"m":0.1245,"v":1.43},{"m":0.127,"v":1.4},{"m":0.1295,"v":1.53},{"m":0.132,"v":1.38},{"m":0.1345,"v":1.52},{"m":0.137,"v":1.6},{"m":0.1395,"v":1.48},{"m":0.142,"v":1.7},{"m":0.1445,"v":1.57},{"m":0.147,"v":1.67},{"m":0.1495,"v":1.54},{"m":0.152,"v":1.77},{"m":0.1545,"v":1.71},{"m":0.157,"v":1.67},{"m":0.1595,"v":1.82},{"m":0.162,"v":1.69},{"m":0.1645,"v":1.92},{"m":0.167,"v":1.85},{"m":0.1695,"v":1.78},{"m":0.172,"v":1.97},{"m":0.1745,"v":1.88},{"m":0.177,"v":1.97},{"m":0.1795,"v":1.86},{"m":0.182,"v":2.09},{"m":0.1845,"v":2.0},{"m":0.187,"v":2.1},{"m":0.1895,"v":2.0},{"m":0.192,"v":2.17},{"m":0.1945,"v":2.07},{"m":0.197,"v":2.19},{"m":0.1995,"v":2.18},{"m":-0.0068,"v":-0.05},{"m":-0.0018,"v":0.15},{"m":0.0033,"v":0.0},{"m":0.0083,"v":0.21},{"m":0.0133,"v":0.34},{"m":0.0183,"v":0.24},{"m":0.0233,"v":0.4},{"m":0.0283,"v":0.28},{"m":0.0333,"v":0.45},{"m":0.0383,"v":0.61},{"m":0.0433,"v":0.46},{"m":0.0483,"v":0.63},{"m":0.0533,"v":0.51},{"m":0.0583,"v":0.79},{"m":0.0633,"v":0.74},{"m":0.0683,"v":0.74},{"m":0.0733,"v":0.98},{"m":0.0783,"v":0.79},{"m":0.0833,"v":1.01},{"m":0.0883,"v":1.03},{"m":0.0933,"v":0.97},{"m":0.0983,"v":1.21},{"m":0.1033,"v":1.13},{"m":0.1083,"v":1.3},{"m":0.1133,"v":1.13},{"m":0.1183,"v":1.38},{"m":0.1233,"v":1.37},{"m":0.1283,"v":1.35},{"m":0.1333,"v":1.59},{"m":0.1383,"v":1.48},{"m":0.1433,"v":1.65},{"m":0.1483,"v":1.51},{"m":0.1533,"v":1.72},{"m":0.1583,"v":1.83},{"m":0.1633,"v":1.71},{"m":0.1683,"v":1.86},{"m":0.1733,"v":1.79},{"m":0.1783,"v":2.06},{"m":0.1833,"v":1.98},{"m":0.1883,"v":2.1},{"m":0.1933,"v":2.04},{"m":0.1983,"v":2.24},{"m":0.0147,"v":0.0},{"m":0.029,"v":0.06},{"m":0.047,"v":0.42},{"m":0.225,"v":2.42}],
"rl":[{"m":-0.035,"v":-0.28},{"m":0.255,"v":2.73}]
},
"layer":[
{"layer":[
 {"data":{"name":"ac"},"mark":{"type":"line","color":"#000","strokeWidth":1},"encoding":{
  "x":{"field":"t","type":"quantitative","scale":{"domain":[0,4],"range":[48,204],"nice":false,"zero":false},"axis":null},
  "y":{"field":"v","type":"quantitative","scale":{"domain":[-2,8],"range":[105,24],"nice":false,"zero":false},"axis":{"orient":"left","offset":-48,"values":[0,2.5,5,7.5],"labelExpr":"datum.value % 5 === 0 ? format(datum.value, 'd') : ''","domain":false,"tickSize":-3,"tickColor":"#777","labelPadding":6,"labelFontSize":14,"title":"current (fA)","titleFontSize":14,"titleAngle":-90,"titleAlign":"center","titleBaseline":"alphabetic","titleX":-15,"titleY":62}}}},
 {"data":{"values":[{}]},"mark":{"type":"rect","fillOpacity":0,"stroke":"#888","strokeWidth":1},"encoding":{"x":{"datum":0,"type":"quantitative","axis":null},"x2":{"datum":4},"y":{"datum":-2,"type":"quantitative"},"y2":{"datum":8}}},
 {"data":{"values":[{"x":3.33,"y":5.65,"txt":"a"}]},"mark":{"type":"text","fontSize":19,"align":"center","baseline":"middle"},"encoding":{"x":{"field":"x","type":"quantitative","axis":null},"y":{"field":"y","type":"quantitative"},"text":{"field":"txt"}}},
 {"data":{"values":[{"x":-1.03,"y":9.5,"txt":"A"}]},"mark":{"type":"text","fontSize":22,"align":"center","baseline":"middle"},"encoding":{"x":{"field":"x","type":"quantitative","axis":null},"y":{"field":"y","type":"quantitative"},"text":{"field":"txt"}}}
]},
{"layer":[
 {"data":{"name":"as"},"mark":{"type":"line","color":"#000","strokeWidth":1},"encoding":{
  "x":{"field":"t","type":"quantitative","scale":{"domain":[0,4],"range":[48,204],"nice":false,"zero":false},"axis":null},
  "y":{"field":"v","type":"quantitative","scale":{"domain":[-2,2],"range":[187,105],"nice":false,"zero":false},"axis":{"orient":"left","offset":-48,"values":[-2,-1,0,1,2],"labelExpr":"datum.value % 2 === 0 ? (datum.value < 0 ? '-2' : format(datum.value, 'd')) : ''","labelBaseline":{"condition":{"test":"datum.value < 0","value":"alphabetic"},"value":"middle"},"domain":false,"tickSize":-3,"tickColor":"#777","labelPadding":6,"labelFontSize":14,"title":["sensor","position (nm)"],"titleFontSize":12.5,"titleLineHeight":19,"titleAngle":-90,"titleAlign":"left","titleBaseline":"alphabetic","titleX":-36,"titleY":175}}}},
 {"data":{"values":[{}]},"mark":{"type":"rect","fillOpacity":0,"stroke":"#888","strokeWidth":1},"encoding":{"x":{"datum":0,"type":"quantitative","axis":null},"x2":{"datum":4},"y":{"datum":-2,"type":"quantitative"},"y2":{"datum":2}}}
]},
{"layer":[
 {"data":{"name":"ach"},"mark":{"type":"line","color":"#000","strokeWidth":1},"encoding":{
  "x":{"field":"t","type":"quantitative","scale":{"domain":[0,4],"range":[48,204],"nice":false,"zero":false},"axis":{"orient":"bottom","offset":-318,"values":[0,0.5,1,1.5,2,2.5,3,3.5,4],"labelExpr":"datum.value % 1 === 0 ? format(datum.value, 'd') : ''","domain":false,"tickSize":-3,"tickColor":"#777","labelPadding":0,"labelFontSize":15,"title":"time (ms)","titleFontSize":17,"titleAlign":"center","titleBaseline":"alphabetic","titleX":136,"titleY":27}},
  "y":{"field":"v","type":"quantitative","scale":{"domain":[-0.7,4.8],"range":[273,187],"nice":false,"zero":false},"axis":{"orient":"left","offset":-48,"values":[0,1,2,3,4],"labelExpr":"format(datum.value, 'd')","domain":false,"tickSize":-3,"tickColor":"#777","labelPadding":6,"labelFontSize":14,"title":"charge (e₀)","titleFontSize":14,"titleAngle":-90,"titleAlign":"center","titleBaseline":"alphabetic","titleX":-14.5,"titleY":239}}}},
 {"data":{"values":[{}]},"mark":{"type":"rect","fillOpacity":0,"stroke":"#888","strokeWidth":1},"encoding":{"x":{"datum":0,"type":"quantitative"},"x2":{"datum":4},"y":{"datum":-0.7,"type":"quantitative"},"y2":{"datum":4.8}}}
]},
{"layer":[
 {"data":{"name":"bc"},"mark":{"type":"line","color":"#000","strokeWidth":1},"encoding":{
  "x":{"field":"t","type":"quantitative","scale":{"domain":[0,4],"range":[233,388],"nice":false,"zero":false},"axis":null},
  "y":{"field":"v","type":"quantitative","scale":{"domain":[-2,8],"range":[105,24],"nice":false,"zero":false},"axis":{"orient":"left","offset":-233,"values":[0,2.5,5,7.5],"labels":false,"domain":false,"tickSize":-3,"tickColor":"#777","title":null}}}},
 {"data":{"values":[{}]},"mark":{"type":"rect","fillOpacity":0,"stroke":"#888","strokeWidth":1},"encoding":{"x":{"datum":0,"type":"quantitative","axis":null},"x2":{"datum":4},"y":{"datum":-2,"type":"quantitative"},"y2":{"datum":8}}},
 {"data":{"values":[{"x":3.535,"y":5.78,"txt":"b"}]},"mark":{"type":"text","fontSize":19,"align":"center","baseline":"middle"},"encoding":{"x":{"field":"x","type":"quantitative","axis":null},"y":{"field":"y","type":"quantitative"},"text":{"field":"txt"}}}
]},
{"layer":[
 {"data":{"name":"bs"},"mark":{"type":"line","color":"#000","strokeWidth":1},"encoding":{
  "x":{"field":"t","type":"quantitative","scale":{"domain":[0,4],"range":[233,388],"nice":false,"zero":false},"axis":null},
  "y":{"field":"v","type":"quantitative","scale":{"domain":[-2,2],"range":[187,105],"nice":false,"zero":false},"axis":{"orient":"left","offset":-233,"values":[-2,-1,0,1,2],"labels":false,"domain":false,"tickSize":-3,"tickColor":"#777","title":null}}}},
 {"data":{"values":[{}]},"mark":{"type":"rect","fillOpacity":0,"stroke":"#888","strokeWidth":1},"encoding":{"x":{"datum":0,"type":"quantitative","axis":null},"x2":{"datum":4},"y":{"datum":-2,"type":"quantitative"},"y2":{"datum":2}}}
]},
{"layer":[
 {"data":{"name":"bch"},"mark":{"type":"line","color":"#000","strokeWidth":1},"encoding":{
  "x":{"field":"t","type":"quantitative","scale":{"domain":[0,4],"range":[233,388],"nice":false,"zero":false},"axis":{"orient":"bottom","offset":-318,"values":[0,0.5,1,1.5,2,2.5,3,3.5,4],"labelExpr":"datum.value % 1 === 0 ? format(datum.value, 'd') : ''","domain":false,"tickSize":-3,"tickColor":"#777","labelPadding":0,"labelFontSize":15,"title":"time (ms)","titleFontSize":17,"titleAlign":"center","titleBaseline":"alphabetic","titleX":328,"titleY":27}},
  "y":{"field":"v","type":"quantitative","scale":{"domain":[-0.7,4.8],"range":[273,187],"nice":false,"zero":false},"axis":{"orient":"left","offset":-233,"values":[0,1,2,3,4],"labels":false,"domain":false,"tickSize":-3,"tickColor":"#777","title":null}}}},
 {"data":{"values":[{}]},"mark":{"type":"rect","fillOpacity":0,"stroke":"#888","strokeWidth":1},"encoding":{"x":{"datum":0,"type":"quantitative"},"x2":{"datum":4},"y":{"datum":-0.7,"type":"quantitative"},"y2":{"datum":4.8}}}
]},
{"layer":[
 {"data":{"name":"cc"},"mark":{"type":"line","color":"#000","strokeWidth":1},"encoding":{
  "x":{"field":"t","type":"quantitative","scale":{"domain":[0,4],"range":[48,204],"nice":false,"zero":false},"axis":null},
  "y":{"field":"v","type":"quantitative","scale":{"domain":[-2.1,8.4],"range":[387.3,306.7],"nice":false,"zero":false},"axis":{"orient":"left","offset":-48,"values":[0,2.5,5,7.5],"labelExpr":"datum.value % 5 === 0 ? format(datum.value, 'd') : ''","domain":false,"tickSize":-3,"tickColor":"#777","labelPadding":6,"labelFontSize":14,"title":"current (fA)","titleFontSize":14,"titleAngle":-90,"titleAlign":"center","titleBaseline":"alphabetic","titleX":-15,"titleY":337}}}},
 {"data":{"values":[{}]},"mark":{"type":"rect","fillOpacity":0,"stroke":"#888","strokeWidth":1},"encoding":{"x":{"datum":0,"type":"quantitative","axis":null},"x2":{"datum":4},"y":{"datum":-2.1,"type":"quantitative"},"y2":{"datum":8.4}}},
 {"data":{"values":[{"x":3.38,"y":6.28,"txt":"c"}]},"mark":{"type":"text","fontSize":19,"align":"center","baseline":"middle"},"encoding":{"x":{"field":"x","type":"quantitative","axis":null},"y":{"field":"y","type":"quantitative"},"text":{"field":"txt"}}}
]},
{"layer":[
 {"data":{"name":"cs"},"mark":{"type":"line","color":"#000","strokeWidth":1},"encoding":{
  "x":{"field":"t","type":"quantitative","scale":{"domain":[0,4],"range":[48,204],"nice":false,"zero":false},"axis":null},
  "y":{"field":"v","type":"quantitative","scale":{"domain":[-2.35,2.45],"range":[469,387.3],"nice":false,"zero":false},"axis":{"orient":"left","offset":-48,"values":[-2,-1,0,1,2],"labelExpr":"datum.value % 2 === 0 ? (datum.value < 0 ? '-2' : format(datum.value, 'd')) : ''","domain":false,"tickSize":-3,"tickColor":"#777","labelPadding":6,"labelFontSize":14,"title":["sensor","position (nm)"],"titleFontSize":12.5,"titleLineHeight":19,"titleAngle":-90,"titleAlign":"left","titleBaseline":"alphabetic","titleX":-37,"titleY":450}}}},
 {"data":{"values":[{}]},"mark":{"type":"rect","fillOpacity":0,"stroke":"#888","strokeWidth":1},"encoding":{"x":{"datum":0,"type":"quantitative","axis":null},"x2":{"datum":4},"y":{"datum":-2.35,"type":"quantitative"},"y2":{"datum":2.45}}}
]},
{"layer":[
 {"data":{"name":"cch"},"mark":{"type":"line","color":"#000","strokeWidth":1},"encoding":{
  "x":{"field":"t","type":"quantitative","scale":{"domain":[0,4],"range":[48,204],"nice":false,"zero":false},"axis":{"orient":"bottom","offset":-41,"values":[0,0.5,1,1.5,2,2.5,3,3.5,4],"labelExpr":"datum.value % 1 === 0 ? format(datum.value, 'd') : ''","domain":false,"tickSize":-3,"tickColor":"#777","labelPadding":3,"labelFontSize":15,"title":"time (ms)","titleFontSize":17,"titleAlign":"center","titleBaseline":"alphabetic","titleX":136,"titleY":31}},
  "y":{"field":"v","type":"quantitative","scale":{"domain":[-0.3,4.9],"range":[550,469],"nice":false,"zero":false},"axis":{"orient":"left","offset":-48,"values":[0,1,2,3,4],"labelExpr":"datum.value % 2 === 0 ? format(datum.value, 'd') : ''","domain":false,"tickSize":-3,"tickColor":"#777","labelPadding":6,"labelFontSize":14,"title":"charge (e₀)","titleFontSize":14,"titleAngle":-90,"titleAlign":"center","titleBaseline":"alphabetic","titleX":-15.4,"titleY":516}}}},
 {"data":{"values":[{}]},"mark":{"type":"rect","fillOpacity":0,"stroke":"#888","strokeWidth":1},"encoding":{"x":{"datum":0,"type":"quantitative"},"x2":{"datum":4},"y":{"datum":-0.3,"type":"quantitative"},"y2":{"datum":4.9}}}
]},
{"layer":[
 {"data":{"name":"dc"},"mark":{"type":"line","color":"#000","strokeWidth":1},"encoding":{
  "x":{"field":"t","type":"quantitative","scale":{"domain":[0,4],"range":[233,388],"nice":false,"zero":false},"axis":null},
  "y":{"field":"v","type":"quantitative","scale":{"domain":[-2.1,8.4],"range":[387.3,306.7],"nice":false,"zero":false},"axis":{"orient":"left","offset":-233,"values":[0,2.5,5,7.5],"labels":false,"domain":false,"tickSize":-3,"tickColor":"#777","title":null}}}},
 {"data":{"values":[{}]},"mark":{"type":"rect","fillOpacity":0,"stroke":"#888","strokeWidth":1},"encoding":{"x":{"datum":0,"type":"quantitative","axis":null},"x2":{"datum":4},"y":{"datum":-2.1,"type":"quantitative"},"y2":{"datum":8.4}}},
 {"data":{"values":[{"x":3.535,"y":6.28,"txt":"d"}]},"mark":{"type":"text","fontSize":19,"align":"center","baseline":"middle"},"encoding":{"x":{"field":"x","type":"quantitative","axis":null},"y":{"field":"y","type":"quantitative"},"text":{"field":"txt"}}}
]},
{"layer":[
 {"data":{"name":"ds"},"mark":{"type":"line","color":"#000","strokeWidth":1},"encoding":{
  "x":{"field":"t","type":"quantitative","scale":{"domain":[0,4],"range":[233,388],"nice":false,"zero":false},"axis":null},
  "y":{"field":"v","type":"quantitative","scale":{"domain":[-2.35,2.45],"range":[469,387.3],"nice":false,"zero":false},"axis":{"orient":"left","offset":-233,"values":[-2,-1,0,1,2],"labels":false,"domain":false,"tickSize":-3,"tickColor":"#777","title":null}}}},
 {"data":{"values":[{}]},"mark":{"type":"rect","fillOpacity":0,"stroke":"#888","strokeWidth":1},"encoding":{"x":{"datum":0,"type":"quantitative","axis":null},"x2":{"datum":4},"y":{"datum":-2.35,"type":"quantitative"},"y2":{"datum":2.45}}}
]},
{"layer":[
 {"data":{"name":"dch"},"mark":{"type":"line","color":"#000","strokeWidth":1},"encoding":{
  "x":{"field":"t","type":"quantitative","scale":{"domain":[0,4],"range":[233,388],"nice":false,"zero":false},"axis":{"orient":"bottom","offset":-41,"values":[0,0.5,1,1.5,2,2.5,3,3.5,4],"labelExpr":"datum.value % 1 === 0 ? format(datum.value, 'd') : ''","domain":false,"tickSize":-3,"tickColor":"#777","labelPadding":3,"labelFontSize":15,"title":"time (ms)","titleFontSize":17,"titleAlign":"center","titleBaseline":"alphabetic","titleX":304,"titleY":31}},
  "y":{"field":"v","type":"quantitative","scale":{"domain":[-0.3,4.9],"range":[550,469],"nice":false,"zero":false},"axis":{"orient":"left","offset":-233,"values":[0,1,2,3,4],"labels":false,"domain":false,"tickSize":-3,"tickColor":"#777","title":null}}}},
 {"data":{"values":[{}]},"mark":{"type":"rect","fillOpacity":0,"stroke":"#888","strokeWidth":1},"encoding":{"x":{"datum":0,"type":"quantitative"},"x2":{"datum":4},"y":{"datum":-0.3,"type":"quantitative"},"y2":{"datum":4.9}}}
]},
{"layer":[
 {"data":{"name":"hist"},"mark":{"type":"bar","width":13,"fill":"#F2C99B","stroke":"#3a3a3a","strokeWidth":1},"encoding":{
  "x":{"field":"x","type":"quantitative","scale":{"domain":[0,4.2],"range":[433.5,761],"nice":false,"zero":false},"axis":{"orient":"bottom","offset":-349,"values":[0,0.5,1,1.5,2,2.5,3,3.5,4],"labelExpr":"datum.value % 1 === 0 ? format(datum.value, 'd') : ''","tickSize":{"condition":{"test":"datum.value % 1 === 0","value":5},"value":3},"labelPadding":0,"labelFontSize":15,"domainColor":"#222","tickColor":"#222","title":"shot integral (e₀)","titleFontSize":16,"titleAlign":"center","titleBaseline":"alphabetic","titleX":515,"titleY":36}},
  "y":{"field":"n","type":"quantitative","scale":{"domain":[0,55],"range":[242,16.5],"nice":false,"zero":false},"axis":{"orient":"left","offset":-433.5,"values":[0,5,10,15,20,25,30,35,40,45,50,55],"labelExpr":"datum.value % 10 === 0 ? format(datum.value, 'd') : ''","tickSize":{"condition":{"test":"datum.value % 10 === 0","value":5},"value":3},"labelPadding":1,"labelFontSize":15,"domainColor":"#222","tickColor":"#222","title":null}}}},
 {"data":{"name":"fit"},"mark":{"type":"line","color":"#e3161d","strokeWidth":2,"interpolate":"monotone"},"encoding":{"x":{"field":"x","type":"quantitative"},"y":{"field":"y","type":"quantitative"}}},
 {"data":{"name":"arrows"},"mark":{"type":"rule","color":"#000","strokeWidth":1},"encoding":{"x":{"field":"x","type":"quantitative"},"y":{"field":"y","type":"quantitative"},"x2":{"field":"x2"},"y2":{"field":"y2"}}},
 {"data":{"values":[{"x":1.16,"y":48.7}]},"mark":{"type":"point","shape":"triangle-up","filled":true,"color":"#000","size":30,"angle":263},"encoding":{"x":{"field":"x","type":"quantitative"},"y":{"field":"y","type":"quantitative"}}},
 {"data":{"values":[{"x":1.783,"y":13.2}]},"mark":{"type":"point","shape":"triangle-up","filled":true,"color":"#000","size":30,"angle":166},"encoding":{"x":{"field":"x","type":"quantitative"},"y":{"field":"y","type":"quantitative"}}},
 {"data":{"values":[{"x":2.747,"y":6.6}]},"mark":{"type":"point","shape":"triangle-up","filled":true,"color":"#000","size":30,"angle":168},"encoding":{"x":{"field":"x","type":"quantitative"},"y":{"field":"y","type":"quantitative"}}},
 {"data":{"values":[{"x":3.83,"y":3.9}]},"mark":{"type":"point","shape":"triangle-up","filled":true,"color":"#000","size":30,"angle":156},"encoding":{"x":{"field":"x","type":"quantitative"},"y":{"field":"y","type":"quantitative"}}},
 {"data":{"name":"atext"},"mark":{"type":"text","fontSize":16,"align":"left","baseline":"alphabetic"},"encoding":{"x":{"field":"x","type":"quantitative"},"y":{"field":"y","type":"quantitative"},"text":{"field":"txt"}}},
 {"data":{"values":[{"x":0.29,"y":51.8,"txt":"N"}]},"mark":{"type":"text","fontSize":17,"align":"center","baseline":"middle"},"encoding":{"x":{"field":"x","type":"quantitative"},"y":{"field":"y","type":"quantitative"},"text":{"field":"txt"}}},
 {"data":{"values":[{"x":-0.25,"y":56.0,"txt":"B"}]},"mark":{"type":"text","fontSize":20,"align":"center","baseline":"middle"},"encoding":{"x":{"field":"x","type":"quantitative"},"y":{"field":"y","type":"quantitative"},"text":{"field":"txt"}}}
]},
{"layer":[
 {"data":{"name":"peaks"},"mark":{"type":"bar","width":18,"fill":"#F2C99B","stroke":"#666","strokeWidth":1},"encoding":{
  "x":{"field":"k","type":"quantitative","scale":{"domain":[0.5,4.5],"range":[637.5,725.5],"nice":false,"zero":false},"axis":{"orient":"bottom","offset":-443.5,"values":[1,1.5,2,2.5,3,3.5,4],"labelExpr":"datum.value % 1 === 0 ? format(datum.value, 'd') : ''","tickSize":{"condition":{"test":"datum.value % 1 === 0","value":4},"value":2},"labelPadding":1,"labelFontSize":15,"domainColor":"#444","tickColor":"#444","title":"number of peaks","titleFontSize":13.5,"titleAlign":"center","titleBaseline":"alphabetic","titleX":687.5,"titleY":33}},
  "y":{"field":"n","type":"quantitative","scale":{"domain":[0,25.5],"range":[147.5,1.7],"nice":false,"zero":false},"axis":{"orient":"left","offset":-637.5,"values":[0,5,10,15,20,25],"labelExpr":"datum.value % 10 === 0 ? format(datum.value, 'd') : ''","tickSize":{"condition":{"test":"datum.value % 10 === 0","value":4},"value":2},"labelPadding":2,"labelFontSize":15,"domainColor":"#444","tickColor":"#444","title":null}}}},
 {"data":{"values":[{"x":1.15,"y":23.3,"txt":"N"}]},"mark":{"type":"text","fontSize":14,"align":"center","baseline":"middle"},"encoding":{"x":{"field":"x","type":"quantitative"},"y":{"field":"y","type":"quantitative"},"text":{"field":"txt"}}}
]},
{"layer":[
 {"data":{"name":"qcurve"},"mark":{"type":"line","color":"#000","strokeWidth":1.2,"interpolate":"monotone"},"encoding":{
  "x":{"field":"f","type":"quantitative","scale":{"domain":[0,70],"range":[466,655],"nice":false,"zero":false},"axis":{"orient":"bottom","offset":-42.7,"values":[0,10,20,30,40,50,60,70],"labelExpr":"datum.value % 20 === 0 ? format(datum.value, 'd') : ''","tickSize":{"condition":{"test":"datum.value % 20 === 0","value":5},"value":3},"labelPadding":0,"labelFontSize":16,"domainColor":"#222","tickColor":"#222","title":"filter frequency (kHz)","titleFontSize":17,"titleAlign":"center","titleBaseline":"alphabetic","titleX":594,"titleY":38}},
  "y":{"field":"q","type":"quantitative","scale":{"domain":[0.7,2.4],"range":[548.3,315],"nice":false,"zero":false},"axis":{"orient":"left","offset":-466,"values":[0.75,1,1.25,1.5,1.75,2,2.25],"labelExpr":"datum.value % 0.5 === 0 ? format(datum.value, '.1f') : ''","tickSize":{"condition":{"test":"datum.value % 0.5 === 0","value":5},"value":3},"labelPadding":3,"labelFontSize":17,"domainColor":"#222","tickColor":"#222","title":"qₐₚₚ (e₀)","titleFontSize":16,"titleAngle":-90,"titleAlign":"center","titleBaseline":"alphabetic","titleX":-45,"titleY":351}}}},
 {"data":{"name":"qpts"},"mark":{"type":"point","shape":"circle","filled":true,"fill":"#fff","stroke":"#000","strokeWidth":1.2,"size":85,"opacity":1},"encoding":{"x":{"field":"f","type":"quantitative"},"y":{"field":"q","type":"quantitative"}}},
 {"data":{"values":[{"x":-18.9,"y":2.444,"txt":"C"}]},"mark":{"type":"text","fontSize":22,"align":"center","baseline":"middle"},"encoding":{"x":{"field":"x","type":"quantitative"},"y":{"field":"y","type":"quantitative"},"text":{"field":"txt"}}}
]},
{"layer":[
 {"data":{"name":"mv"},"mark":{"type":"square","color":"#000","size":10,"opacity":1},"encoding":{
  "x":{"field":"m","type":"quantitative","scale":{"domain":[-0.035,0.255],"range":[562.3,726.7],"nice":false,"zero":false},"axis":{"orient":"bottom","offset":-163.7,"values":[0,0.05,0.1,0.15,0.2,0.25],"labelExpr":"datum.value === 0 || datum.value === 0.1 || datum.value === 0.2 ? format(datum.value, '.1f') : ''","tickSize":{"condition":{"test":"datum.value === 0 || datum.value === 0.1 || datum.value === 0.2","value":4},"value":2},"labelPadding":2,"labelFontSize":16,"domainColor":"#222","tickColor":"#222","title":"mean (fA)","titleFontSize":16,"titleAlign":"center","titleBaseline":"alphabetic","titleX":706.5,"titleY":-9.5}},
  "y":{"field":"v","type":"quantitative","scale":{"domain":[-0.27,2.75],"range":[427.3,330],"nice":false,"zero":false},"axis":{"orient":"left","offset":-562.3,"values":[0,0.5,1,1.5,2,2.5],"labelExpr":"datum.value % 1 === 0 ? format(datum.value, 'd') : ''","tickSize":{"condition":{"test":"datum.value % 1 === 0","value":3},"value":2},"labelPadding":0,"labelFontSize":15,"domainColor":"#222","tickColor":"#222","title":"variance (fA²)","titleFontSize":16,"titleAngle":-90,"titleAlign":"center","titleBaseline":"alphabetic","titleX":-17,"titleY":370}}}},
 {"data":{"name":"rl"},"mark":{"type":"line","color":"#e3161d","strokeWidth":1.2},"encoding":{"x":{"field":"m","type":"quantitative"},"y":{"field":"v","type":"quantitative"}}},
 {"data":{"values":[{"x":0.1197,"y":3.15,"txt":"filter frequency= 32 kHz"}]},"mark":{"type":"text","fontSize":17,"align":"center","baseline":"alphabetic"},"encoding":{"x":{"field":"x","type":"quantitative"},"y":{"field":"y","type":"quantitative"},"text":{"field":"txt"}}},
 {"data":{"values":[{"x":0.0345,"y":1.85,"txt":"qₐₚₚ=1.05"}]},"mark":{"type":"text","fontSize":12.5,"align":"left","baseline":"alphabetic","color":"#e3161d"},"encoding":{"x":{"field":"x","type":"quantitative"},"y":{"field":"y","type":"quantitative"},"text":{"field":"txt"}}}
]}
],
"resolve":{"scale":{"x":"independent","y":"independent"},"axis":{"x":"independent","y":"independent"}}
}
